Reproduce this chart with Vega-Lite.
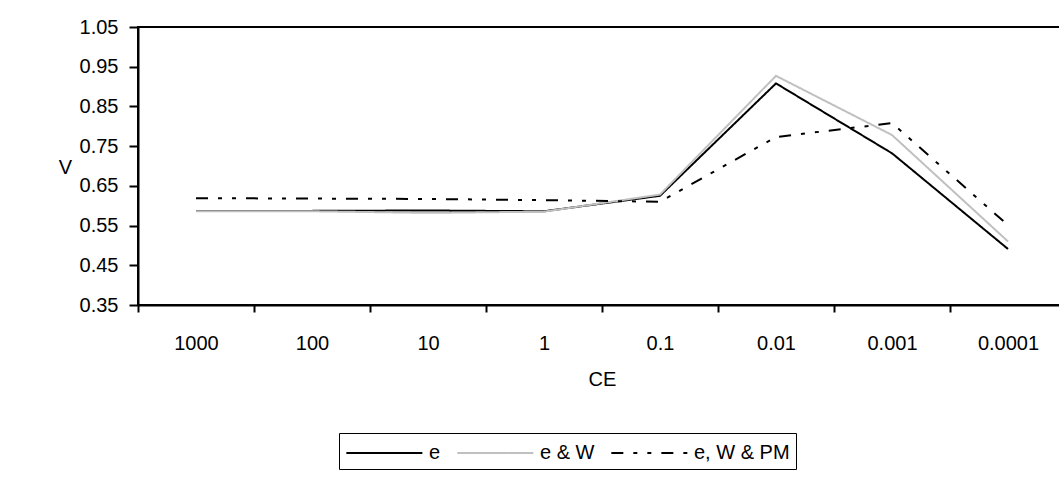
{
  "$schema": "https://vega.github.io/schema/vega-lite/v6.json",
  "width": 928,
  "height": 278,
  "autosize": {"type": "none"},
  "padding": {"left": 138, "top": 27, "right": 0, "bottom": 177},
  "background": "white",
  "config": {
    "font": "Liberation Sans",
    "view": {"stroke": "black", "strokeWidth": 2},
    "axis": {"grid": false, "domainColor": "black", "domainWidth": 2, "tickColor": "black", "tickWidth": 2, "labelColor": "black", "titleColor": "black", "labelFont": "Liberation Sans", "titleFont": "Liberation Sans", "labelFontSize": 20, "titleFontSize": 20, "titleFontWeight": "normal"},
    "legend": {"labelFont": "Liberation Sans"}
  },
  "data": {
    "values": [
      {"CE": "1000", "series": "e", "V": 0.587},
      {"CE": "100", "series": "e", "V": 0.587},
      {"CE": "10", "series": "e", "V": 0.588},
      {"CE": "1", "series": "e", "V": 0.586},
      {"CE": "0.1", "series": "e", "V": 0.625},
      {"CE": "0.01", "series": "e", "V": 0.908},
      {"CE": "0.001", "series": "e", "V": 0.732},
      {"CE": "0.0001", "series": "e", "V": 0.491},
      {"CE": "1000", "series": "e & W", "V": 0.586},
      {"CE": "100", "series": "e & W", "V": 0.586},
      {"CE": "10", "series": "e & W", "V": 0.582},
      {"CE": "1", "series": "e & W", "V": 0.585},
      {"CE": "0.1", "series": "e & W", "V": 0.628},
      {"CE": "0.01", "series": "e & W", "V": 0.927},
      {"CE": "0.001", "series": "e & W", "V": 0.778},
      {"CE": "0.0001", "series": "e & W", "V": 0.51},
      {"CE": "1000", "series": "e, W & PM", "V": 0.619},
      {"CE": "100", "series": "e, W & PM", "V": 0.618},
      {"CE": "10", "series": "e, W & PM", "V": 0.617},
      {"CE": "1", "series": "e, W & PM", "V": 0.614},
      {"CE": "0.1", "series": "e, W & PM", "V": 0.61},
      {"CE": "0.01", "series": "e, W & PM", "V": 0.773},
      {"CE": "0.001", "series": "e, W & PM", "V": 0.808},
      {"CE": "0.0001", "series": "e, W & PM", "V": 0.551}
    ]
  },
  "mark": {"type": "line", "strokeJoin": "miter"},
  "encoding": {
    "x": {
      "field": "CE",
      "type": "nominal",
      "sort": null,
      "bandPosition": 0.5,
      "scale": {"type": "band", "paddingInner": 0, "paddingOuter": 0},
      "axis": {"title": "CE", "labelAngle": 0, "tickBand": "extent", "tickSize": 7, "labelPadding": 21, "titleY": 80, "titleBaseline": "alphabetic"}
    },
    "y": {
      "field": "V",
      "type": "quantitative",
      "scale": {"domain": [0.35, 1.05], "nice": false, "zero": false},
      "axis": {"values": [0.35, 0.45, 0.55, 0.65, 0.75, 0.85, 0.95, 1.05], "format": ".2f", "title": "V", "titleAngle": 0, "titleX": -73, "titleY": 146, "titleAlign": "center", "titleBaseline": "alphabetic", "tickSize": 9, "labelPadding": 11}
    },
    "color": {
      "field": "series",
      "type": "nominal",
      "sort": null,
      "scale": {"domain": ["e", "e & W", "e, W & PM"], "range": ["#000000", "#c0c0c0", "#000000"]},
      "legend": {"orient": "none", "legendX": 201, "legendY": 406, "direction": "horizontal", "title": null, "symbolType": "M-1,0H5", "symbolSize": 642, "strokeColor": "black", "padding": 6, "labelFontSize": 20, "labelColor": "black", "columnPadding": 12, "labelOffset": 56, "labelLimit": 0}
    },
    "strokeDash": {
      "field": "series",
      "type": "nominal",
      "sort": null,
      "scale": {"domain": ["e", "e & W", "e, W & PM"], "range": [[1, 0], [1, 0], [12, 10, 4, 10, 4, 10]]}
    },
    "strokeWidth": {
      "field": "series",
      "type": "nominal",
      "sort": null,
      "scale": {"domain": ["e", "e & W", "e, W & PM"], "range": [2, 2, 3]}
    }
  }
}
